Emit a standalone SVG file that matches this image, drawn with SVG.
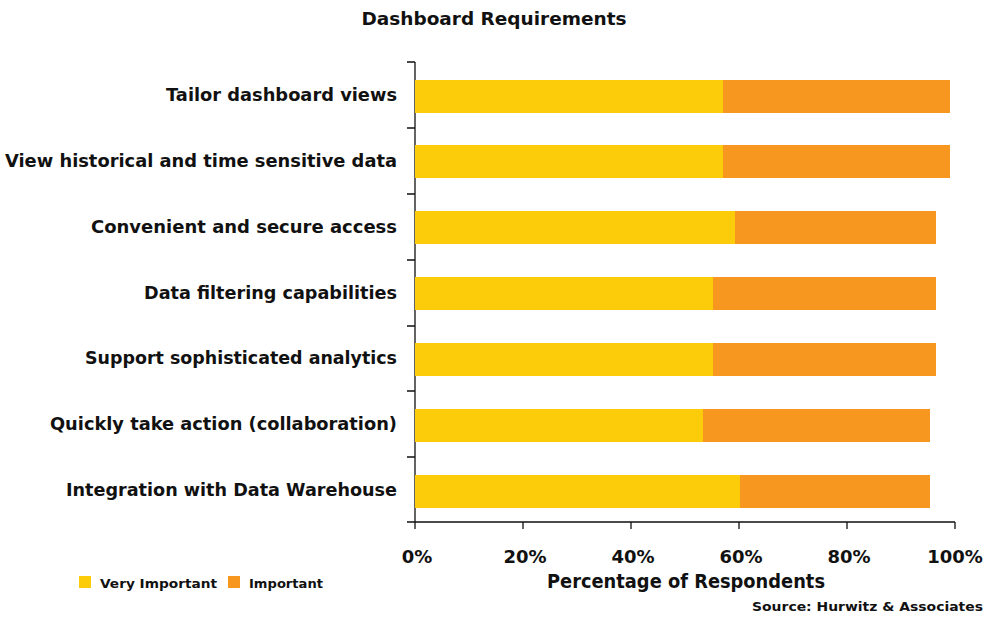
<svg xmlns="http://www.w3.org/2000/svg" width="987" height="617" viewBox="0 0 987 617">
<style>
text{font-family:"DejaVu Sans","Liberation Sans",sans-serif;font-weight:bold;fill:#111}
.cat{font-size:18px;text-anchor:end}
.tick{font-size:18px;text-anchor:middle}
.vi{fill:#FCCB0A}
.im{fill:#F8971F}
.ax{stroke:#111;stroke-width:1.3;fill:none}
</style>
<rect width="987" height="617" fill="#fff"/>
<text x="494" y="25" font-size="17" text-anchor="middle" textLength="265" lengthAdjust="spacingAndGlyphs">Dashboard Requirements</text>
<g id="axes">
<path class="ax" d="M415,62V522H955M407,62H415M407,128H415M407,194H415M407,260H415M407,326H415M407,391H415M407,457H415M407,522H415M415,522V529M523,522V529M631,522V529M739,522V529M847,522V529M955,522V529"/>
</g>
<g id="bar1"><rect class="vi" x="415" y="80" width="308" height="33"/><rect class="im" x="723" y="80" width="227" height="33"/><text class="cat" x="397" y="100.5" textLength="231" lengthAdjust="spacingAndGlyphs">Tailor dashboard views</text></g>
<g id="bar2"><rect class="vi" x="415" y="145" width="308" height="33"/><rect class="im" x="723" y="145" width="227" height="33"/><text class="cat" x="397" y="166.5" textLength="392" lengthAdjust="spacingAndGlyphs">View historical and time sensitive data</text></g>
<g id="bar3"><rect class="vi" x="415" y="211" width="320" height="33"/><rect class="im" x="735" y="211" width="201" height="33"/><text class="cat" x="397" y="232.5" textLength="306" lengthAdjust="spacingAndGlyphs">Convenient and secure access</text></g>
<g id="bar4"><rect class="vi" x="415" y="277" width="298" height="33"/><rect class="im" x="713" y="277" width="223" height="33"/><text class="cat" x="397" y="298.5" textLength="253" lengthAdjust="spacingAndGlyphs">Data filtering capabilities</text></g>
<g id="bar5"><rect class="vi" x="415" y="343" width="298" height="33"/><rect class="im" x="713" y="343" width="223" height="33"/><text class="cat" x="397" y="363.5" textLength="312" lengthAdjust="spacingAndGlyphs">Support sophisticated analytics</text></g>
<g id="bar6"><rect class="vi" x="415" y="409" width="288" height="33"/><rect class="im" x="703" y="409" width="227" height="33"/><text class="cat" x="397" y="429.5" textLength="347" lengthAdjust="spacingAndGlyphs">Quickly take action (collaboration)</text></g>
<g id="bar7"><rect class="vi" x="415" y="475" width="325" height="33"/><rect class="im" x="740" y="475" width="190" height="33"/><text class="cat" x="397" y="495.5" textLength="331" lengthAdjust="spacingAndGlyphs">Integration with Data Warehouse</text></g>
<g id="xlabels">
<text class="tick" x="417" y="563">0%</text>
<text class="tick" x="525" y="563">20%</text>
<text class="tick" x="633" y="563">40%</text>
<text class="tick" x="741" y="563">60%</text>
<text class="tick" x="849" y="563">80%</text>
<text class="tick" x="955" y="563">100%</text>
</g>
<text x="686" y="588" font-size="19" text-anchor="middle" textLength="278" lengthAdjust="spacingAndGlyphs">Percentage of Respondents</text>
<g id="legend">
<rect class="vi" x="79" y="576" width="12" height="12"/>
<text x="100" y="588" font-size="13" textLength="117" lengthAdjust="spacingAndGlyphs">Very Important</text>
<rect class="im" x="228" y="576" width="12" height="12"/>
<text x="249" y="588" font-size="13" textLength="74" lengthAdjust="spacingAndGlyphs">Important</text>
</g>
<text x="983" y="611" font-size="13" text-anchor="end" textLength="231" lengthAdjust="spacingAndGlyphs">Source: Hurwitz &amp; Associates</text>
</svg>
